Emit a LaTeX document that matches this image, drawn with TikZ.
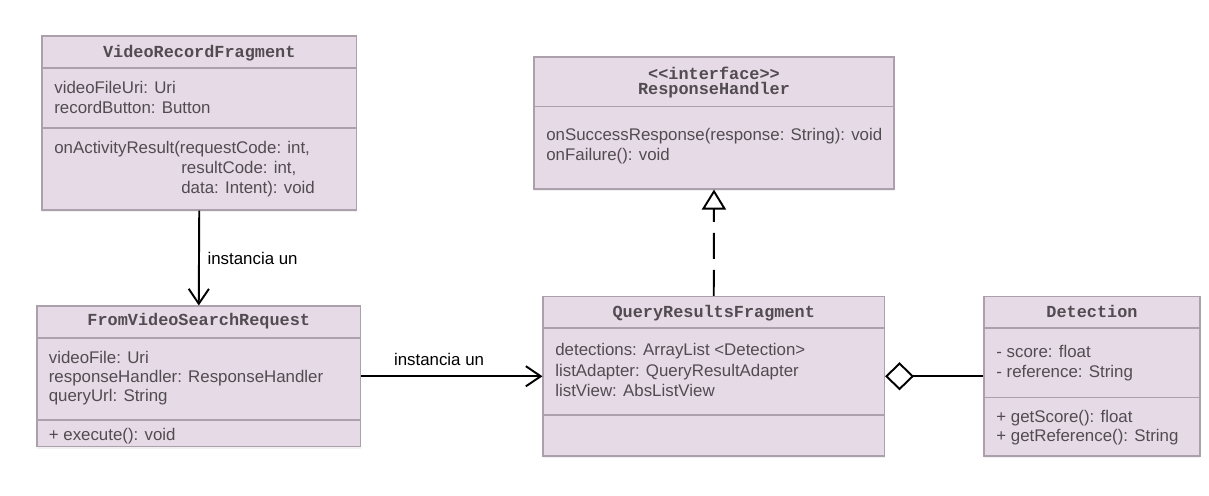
\documentclass[tikz,border=0pt]{standalone}
\usepackage{fontspec}
\setmainfont{Liberation Sans}
\setmonofont{Liberation Mono}
\usepackage{tikz}
\usetikzlibrary{fit}
\usetikzlibrary{calc}
\usetikzlibrary{arrows.meta}
\usetikzlibrary{shadows}
\usepackage{color}
\definecolor{classfill}{RGB}{229, 218, 229}
\definecolor{classline}{RGB}{172, 160, 172}
\definecolor{classtext}{RGB}{82, 76, 82}
\tikzset{
    classbox/.style={draw=classline, fill=classfill, line width=0.6pt, inner sep=0pt,
        drop shadow={shadow xshift=0pt, shadow yshift=-1.2pt, opacity=0.12}},
    divider/.style={draw=classline, line width=0.6pt},
    classname/.style={anchor=base, inner sep=0pt, text=classtext,
        font=\fontsize{9.6}{11}\selectfont\ttfamily\bfseries},
    member/.style={anchor=base west, inner sep=0pt, text=classtext,
        font=\fontsize{9.6}{11}\selectfont},
    reltext/.style={font=\fontsize{9.6}{11}\selectfont, text=black},
    relation/.style={line width=1.1pt, black},
    instantiates/.style={relation, -{Straight Barb[length=8.5pt, width=11.5pt]}},
    realizes/.style={relation, dash pattern=on 14.8pt off 6.3pt,
        -{Triangle[open, length=11.4pt, width=13.7pt]}},
    aggregates/.style={relation, {Diamond[open, length=16.5pt, width=16pt]}-}
}
\begin{document}
\begin{tikzpicture}[x=0.02cm, y=-0.02cm]
            \useasboundingbox (0,0) rectangle (1209,495);
            % VideoRecordFragment
            \node[classbox, fit={(42,36) (356.5,210)}] (vrf) {};
            \draw[divider] (42, 68)  -- (356.5, 68);
            \draw[divider] (42,128)  -- (356.5,128);
            \node[classname] (vrf-name) at (199.25, 57) {VideoRecordFragment};
            \node[member] (vrf-a1) at ( 54, 93.0) {videoFileUri: Uri};
            \node[member] (vrf-a2) at ( 54,113.0) {recordButton: Button};
            \node[member] (vrf-m1) at ( 54,153.5) {onActivityResult(requestCode: int,};
            \node[member] (vrf-m2) at (181,173.5) {resultCode: int,};
            \node[member] (vrf-m3) at (181,193.5) {data: Intent): void};
            % ResponseHandler
            \node[classbox, fit={(534,57) (894,189)}] (rh) {};
            \draw[divider] (534,106.5) -- (894,106.5);
            \node[classname] (rh-stereo) at (714, 79) {\textless\textless interface\textgreater\textgreater};
            \node[classname] (rh-name)   at (714, 94) {ResponseHandler};
            \node[member] (rh-m1) at (546,140.0) {onSuccessResponse(response: String): void};
            \node[member] (rh-m2) at (546,160.5) {onFailure(): void};
            % FromVideoSearchRequest
            \node[classbox, fit={(37,306) (360.5,446.5)}] (fvsr) {};
            \draw[divider] (37,338) -- (360.5,338);
            \draw[divider] (37,420) -- (360.5,420);
            \node[classname] (fvsr-name) at (198.75, 325.5) {FromVideoSearchRequest};
            \node[member] (fvsr-a1) at (48.5,363.5) {videoFile: Uri};
            \node[member] (fvsr-a2) at (48.5,382.5) {responseHandler: ResponseHandler};
            \node[member] (fvsr-a3) at (48.5,401.5) {queryUrl: String};
            \node[member] (fvsr-m1) at (48.5,440.0) {+ execute(): void};
            % QueryResultsFragment
            \node[classbox, fit={(543,296.5) (884.5,456)}] (qrf) {};
            \draw[divider] (543,328) -- (884.5,328);
            \draw[divider] (543,415) -- (884.5,415);
            \node[classname] (qrf-name) at (713.75, 317) {QueryResultsFragment};
            \node[member] (qrf-a1) at (555,355.5) {detections: ArrayList \textless Detection\textgreater};
            \node[member] (qrf-a2) at (555,376.0) {listAdapter: QueryResultAdapter};
            \node[member] (qrf-a3) at (555,396.5) {listView: AbsListView};
            % Detection
            \node[classbox, fit={(984,296.5) (1200,456)}] (det) {};
            \draw[divider] (984,328)   -- (1200,328);
            \draw[divider] (984,397.5) -- (1200,397.5);
            \node[classname] (det-name) at (1092, 317.5) {Detection};
            \node[member] (det-a1) at (996,357.0) {- score: float};
            \node[member] (det-a2) at (996,377.0) {- reference: String};
            \node[member] (det-m1) at (996,422.0) {+ getScore(): float};
            \node[member] (det-m2) at (996,441.5) {+ getReference(): String};
            % Relations
            \draw[instantiates] (vrf.south) -- (fvsr.north)
                 node[midway, right, xshift=1pt, reltext] {instancia un};
            \draw[instantiates] (fvsr.east) -- (qrf.west)
                 node[pos=0.43, above=2pt, reltext] {instancia un};
            \draw[realizes]     (qrf.north) -- (rh.south);
            \draw[aggregates]   (qrf.east)  -- (det.west);
\end{tikzpicture}
\end{document}
